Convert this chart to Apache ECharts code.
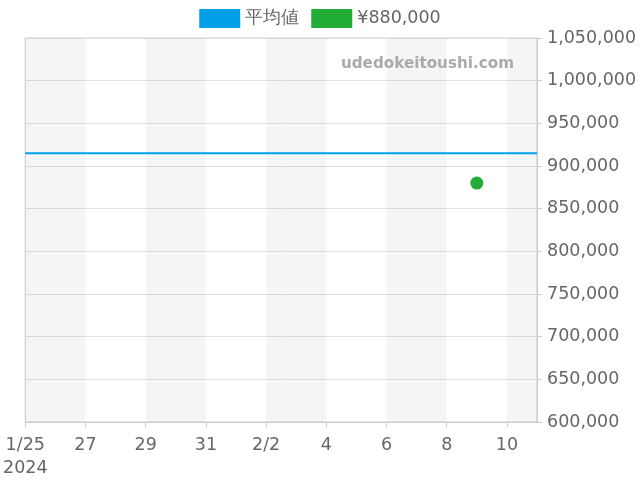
<!DOCTYPE html>
<html><head><meta charset="utf-8">
<script src="https://cdn.jsdelivr.net/npm/echarts@6/dist/echarts.min.js"></script>
<style>html,body{margin:0;padding:0;background:#fff}#c{width:640px;height:480px}</style>
</head><body><div id="c"></div>
<script>
const categories = ['1/25','1/26','1/27','1/28','1/29','1/30','1/31','2/1','2/2','2/3','2/4','2/5','2/6','2/7','2/8','2/9','2/10','2/11'];
const tickLabels = {'1/25':'1/25\n2024','1/27':'27','1/29':'29','1/31':'31','2/2':'2/2','2/4':'4','2/6':'6','2/8':'8','2/10':'10'};
const averageValue = 915000;
const averageDates = ['1/25','2/11'];
const priceDates = ['2/9'];
const priceValues = [880000];
const yMin = 600000, yMax = 1050000, yStep = 50000;

const chart = echarts.init(document.getElementById('c'));
const font = 'DejaVu Sans';
const grey = 'rgba(0,0,0,0.04)', clear = 'rgba(0,0,0,0)';
chart.setOption({
  animation: false,
  textStyle: {fontFamily: font},
  legend: {
    top: 4, left: 'center', itemWidth: 41, itemHeight: 19, itemGap: 12,
    textStyle: {fontSize: 17.5, color: '#666', fontFamily: font},
    data: [{name: '平均値', icon: 'rect'}, {name: '¥880,000', icon: 'rect'}]
  },
  grid: {left: 25, right: 103, top: 38, bottom: 58, show: true, borderColor: '#ccc', borderWidth: 1},
  graphic: [{
    type: 'text', right: 126, top: 57, z: 100,
    style: {text: 'udedokeitoushi.com', fontSize: 15.2, fontWeight: 'bold', fill: '#aaa', fontFamily: font}
  }],
  xAxis: {
    type: 'category', data: categories, boundaryGap: false,
    axisLine: {lineStyle: {color: '#ccc'}},
    axisTick: {show: true, interval: 1, length: 5, lineStyle: {color: '#ccc'}},
    axisLabel: {interval: 1, fontSize: 17.5, color: '#666', margin: 12, lineHeight: 23,
      formatter: v => tickLabels[v] || ''},
    splitLine: {show: false},
    splitArea: {show: true, interval: 0, areaStyle: {color: [grey, grey, clear, clear]}}
  },
  yAxis: {
    type: 'value', position: 'right', min: yMin, max: yMax, interval: yStep,
    axisLine: {show: true, lineStyle: {color: '#ccc'}},
    axisTick: {show: true, length: 5, lineStyle: {color: '#ccc'}},
    axisLabel: {fontSize: 17.5, color: '#666', margin: 10, formatter: v => v.toLocaleString('en-US')},
    splitLine: {lineStyle: {color: '#e2e2e2'}}
  },
  series: [
    {name: '平均値', type: 'line', data: averageDates.map(d => [d, averageValue]),
     showSymbol: false, symbol: 'none', lineStyle: {color: '#00a0e9', width: 2}, itemStyle: {color: '#00a0e9'}},
    {name: '¥880,000', type: 'scatter', data: priceDates.map((d, i) => [d, priceValues[i]]),
     symbolSize: 13, itemStyle: {color: '#22ac38', opacity: 1}}
  ]
});
</script></body></html>
